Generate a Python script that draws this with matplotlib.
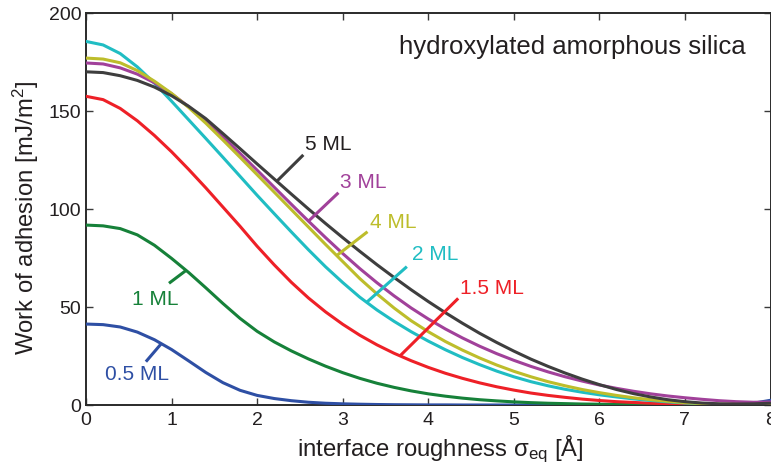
import numpy as np
import matplotlib
matplotlib.use("Agg")
import matplotlib.pyplot as plt

plt.rcParams['font.family'] = ['Liberation Sans', 'DejaVu Sans']
plt.rcParams['mathtext.fontset'] = 'custom'
plt.rcParams['mathtext.rm'] = 'Liberation Sans'
plt.rcParams['mathtext.it'] = 'Liberation Sans:italic'

# roughness grid (Å), 0.2 Å spacing
sigma = np.round(np.arange(0, 8.001, 0.2), 1)

# work of adhesion (mJ/m^2) for each water coverage
w_05 = [41.3, 41.0, 39.8, 37.2, 33.3, 28.3, 22.5, 16.6, 11.4, 7.5,
        4.9, 3.3, 2.2, 1.4, 0.9, 0.6, 0.4, 0.25, 0.15, 0.1,
        0.05, 0.05, 0.0, 0.0, 0.0, 0.0, 0.0, 0.0, 0.0, 0.0,
        0.0, 0.0, 0.0, 0.0, 0.0, 0.0, 0.0, 0.0, 0.2, 0.9, 2.4]
w_1 = [91.8, 91.4, 90.0, 86.8, 81.5, 74.8, 67.6, 59.8, 51.8, 44.2,
       37.6, 32.2, 27.6, 23.5, 19.8, 16.5, 13.6, 11.1, 9.0, 7.2,
       5.7, 4.5, 3.5, 2.7, 2.1, 1.6, 1.2, 0.9, 0.7, 0.5,
       0.4, 0.3, 0.2, 0.15, 0.1, 0.1, 0.1, 0.1, 0.1, 0.1, 0.1]
w_15 = [157.5, 155.8, 151.3, 145.0, 137.5, 129.2, 120.2, 110.8, 101.0, 91.2,
        81.0, 71.5, 62.6, 54.6, 47.5, 41.2, 35.6, 30.7, 26.4, 22.6,
        19.2, 16.2, 13.6, 11.3, 9.3, 7.6, 6.1, 4.9, 3.9, 3.0,
        2.3, 1.7, 1.3, 0.9, 0.6, 0.4, 0.3, 0.2, 0.1, 0.1, 0.1]
w_2 = [185.5, 183.7, 179.3, 172.5, 164.2, 155.0, 145.5, 136.0, 126.4, 116.7,
       107.0, 97.6, 88.3, 79.2, 70.5, 62.5, 55.0, 48.5, 42.7, 37.4,
       32.6, 28.2, 24.2, 20.6, 17.3, 14.4, 11.9, 9.8, 8.0, 6.5,
       5.2, 4.1, 3.1, 2.3, 1.6, 1.0, 0.6, 0.3, 0.2, 0.1, 0.1]
w_3 = [174.5, 174.0, 172.0, 168.8, 164.4, 158.8, 152.2, 144.8, 136.8, 128.4,
       119.8, 111.1, 102.4, 93.8, 85.4, 77.3, 69.6, 62.4, 55.7, 49.5,
       43.9, 38.8, 34.2, 30.0, 26.2, 22.8, 19.7, 16.9, 14.4, 12.2,
       10.2, 8.5, 7.0, 5.7, 4.6, 3.7, 2.9, 2.2, 1.7, 1.4, 1.5]
w_4 = [177.0, 176.5, 174.6, 170.6, 165.2, 159.0, 151.8, 143.8, 135.2, 126.4,
       117.5, 108.6, 99.7, 90.8, 81.9, 73.2, 64.5, 56.7, 49.5, 43.0,
       37.4, 32.4, 28.0, 24.0, 20.4, 17.2, 14.4, 11.9, 9.8, 7.9,
       6.3, 4.9, 3.7, 2.7, 1.9, 1.2, 0.7, 0.4, 0.3, 0.2, 0.2]
w_5 = [170.0, 169.6, 168.0, 165.6, 162.2, 157.8, 152.4, 146.1, 138.5, 130.8,
       123.0, 115.3, 107.6, 100.0, 92.6, 85.4, 78.4, 71.6, 65.1, 58.8,
       52.8, 47.1, 41.7, 36.6, 31.9, 27.5, 23.4, 19.7, 16.3, 13.2,
       10.4, 7.9, 5.8, 4.1, 2.7, 1.7, 1.0, 0.6, 0.5, 0.6, 0.9]

series = [w_05, w_1, w_15, w_2, w_3, w_4, w_5]
labels = ['0.5 ML', '1 ML', '1.5 ML', '2 ML', '3 ML', '4 ML', '5 ML']
colors = ['#2E4FA4', '#168139', '#EE2027', '#20BDC3', '#A1419A', '#BDBD2B', '#3E3E3E']
text_colors = ['#2E4FA4', '#168139', '#EE2027', '#20BDC3', '#A1419A', '#BDBD2B', '#231F20']

# leader lines: x on the curve, line end (x, y), label anchor (x, y), alignment
leader_x = [0.88, 1.17, 3.67, 3.28, 2.60, 2.93, 2.23]
leader_end = [(0.70, 22.1), (0.97, 62.1), (4.35, 54.4), (3.75, 70.6),
              (2.95, 108.3), (3.29, 88.4), (2.54, 127.6)]
label_pos = [(0.60, 15.8), (0.81, 54.0), (4.37, 59.2), (3.81, 77.0),
             (2.97, 113.5), (3.32, 93.1), (2.56, 132.7)]
label_ha = ['center', 'center', 'left', 'left', 'left', 'left', 'left']

fig = plt.figure(figsize=(7.71, 4.70), dpi=100)
ax = fig.add_axes([86 / 771, 1 - 405 / 470, 684.5 / 771, 392 / 470])

for y, c in zip(series, colors):
    ax.plot(sigma, y, color=c, lw=2.2, solid_joinstyle='round', zorder=3)

for y, c, tc, lx, (ex, ey), (tx, ty), ha, lab in zip(
        series, colors, text_colors, leader_x, leader_end, label_pos, label_ha, labels):
    sy = np.interp(lx, sigma, y)
    ax.plot([lx, ex], [sy, ey], color=c, lw=2.2, solid_capstyle='butt', zorder=4)
    ax.text(tx, ty, lab, color=tc, fontsize=15, ha=ha, va='center', zorder=5)

ax.text(5.68, 182.4, 'hydroxylated amorphous silica', fontsize=18.5,
        color='#231F20', ha='center', va='center')

ax.set_xlim(0, 8)
ax.set_ylim(0, 200)
ax.set_xticks(range(0, 9))
ax.set_yticks([0, 50, 100, 150, 200])
ax.tick_params(direction='in', length=5, width=1.0, color='#3a3a3a',
               top=True, right=True, labelsize=14, labelcolor='#231F20')
ax.tick_params(axis='x', pad=5)
ax.tick_params(axis='y', pad=3.5)
for s in ax.spines.values():
    s.set_linewidth(1.4)
    s.set_color('#2a2a2a')

ax.set_xlabel(r'interface roughness σ$_{\mathregular{eq}}$ [Å]', fontsize=17.2,
              color='#231F20')
ax.set_ylabel(r'Work of adhesion [mJ/m$^{\mathregular{2}}$]', fontsize=17.2,
              color='#231F20')
ax.xaxis.set_label_coords(0.518, -0.072)
ax.yaxis.set_label_coords(-0.066, 0.478)

fig.savefig('out.png', dpi=100)
